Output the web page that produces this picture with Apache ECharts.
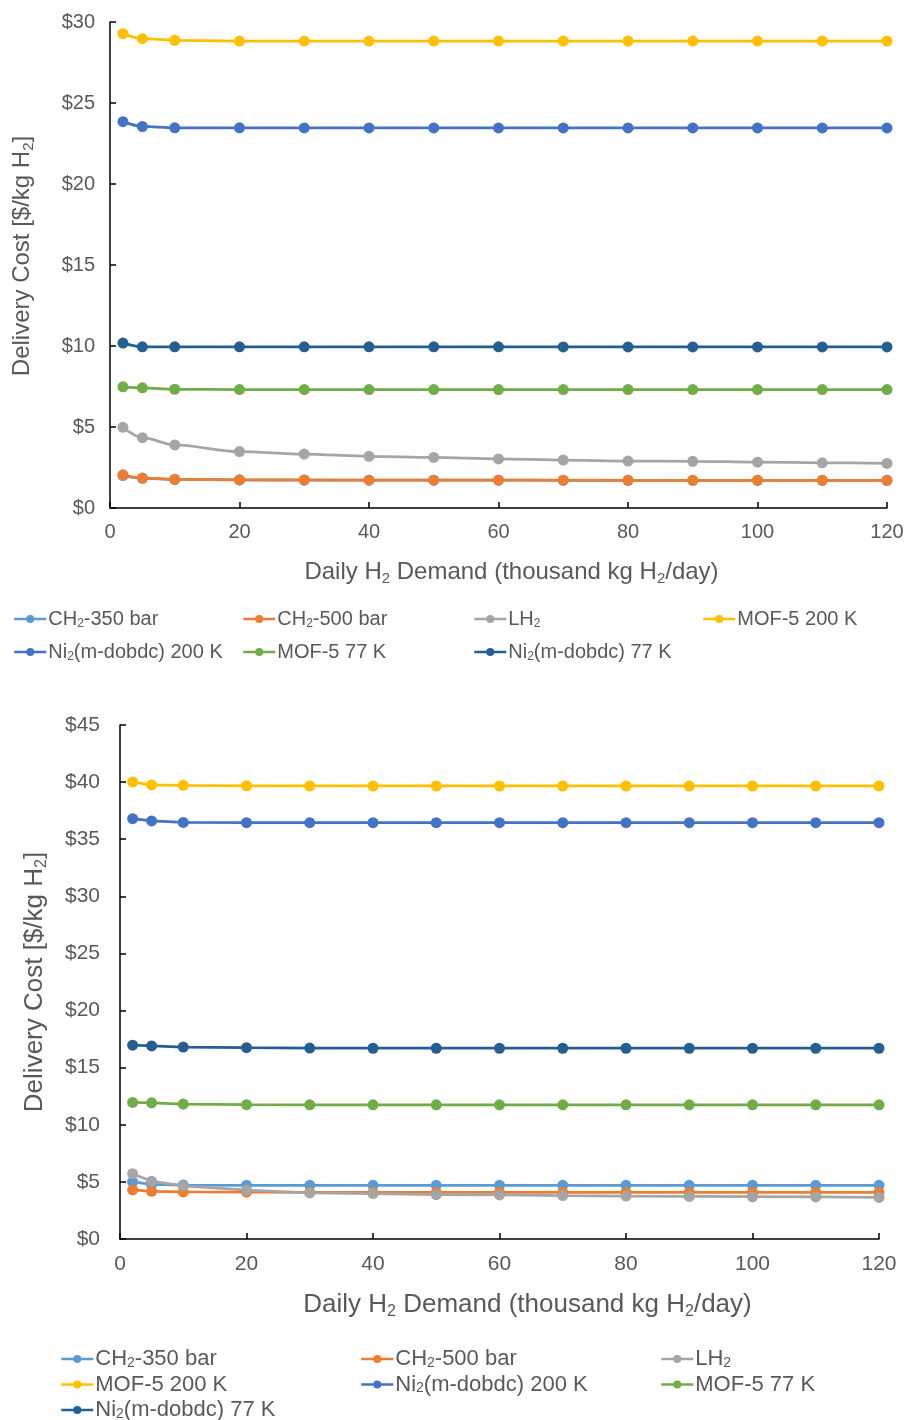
<!DOCTYPE html>
<html><head><meta charset="utf-8">
<script src="https://cdn.jsdelivr.net/npm/echarts@6/dist/echarts.min.js"></script>
<style>html,body{margin:0;padding:0;background:#fff}#c{width:907px;height:1420px}</style>
</head><body><div id="c"></div>
<script>
const xValues = [2,5,10,20,30,40,50,60,70,80,90,100,110,120];
const seriesNames = ['CH2-350 bar','CH2-500 bar','LH2','MOF-5 200 K','Ni2(m-dobdc) 200 K','MOF-5 77 K','Ni2(m-dobdc) 77 K'];
const seriesColors = ['#5B9BD5','#ED7D31','#A5A5A5','#FFC000','#4472C4','#70AD47','#255E91'];
// Top panel
const topCH350 = [2.00,1.83,1.76,1.73,1.72,1.72,1.72,1.72,1.71,1.71,1.71,1.71,1.71,1.71];
const topCH500 = [2.05,1.85,1.77,1.74,1.73,1.72,1.72,1.72,1.72,1.71,1.71,1.71,1.71,1.71];
const topLH2   = [4.98,4.34,3.89,3.48,3.33,3.19,3.12,3.03,2.96,2.90,2.88,2.83,2.79,2.75];
const topMOF200= [29.28,28.97,28.87,28.82,28.82,28.82,28.82,28.82,28.82,28.82,28.82,28.82,28.82,28.82];
const topNi200 = [23.85,23.55,23.47,23.47,23.46,23.46,23.46,23.46,23.46,23.46,23.46,23.46,23.46,23.46];
const topMOF77 = [7.48,7.42,7.33,7.31,7.31,7.31,7.31,7.31,7.31,7.31,7.31,7.31,7.31,7.31];
const topNi77  = [10.18,9.95,9.95,9.95,9.95,9.95,9.95,9.95,9.94,9.94,9.94,9.94,9.94,9.94];
// Bottom panel
const botCH350 = [5.00,4.78,4.72,4.70,4.70,4.70,4.70,4.70,4.70,4.70,4.70,4.70,4.70,4.70];
const botCH500 = [4.30,4.17,4.12,4.10,4.09,4.09,4.08,4.08,4.08,4.08,4.08,4.08,4.08,4.08];
const botLH2   = [5.72,5.06,4.65,4.27,4.03,3.98,3.88,3.86,3.80,3.76,3.73,3.70,3.68,3.64];
const botMOF200= [40.00,39.75,39.72,39.68,39.66,39.66,39.66,39.66,39.66,39.66,39.66,39.66,39.66,39.66];
const botNi200 = [36.80,36.60,36.47,36.45,36.45,36.45,36.45,36.45,36.45,36.45,36.45,36.45,36.45,36.45];
const botMOF77 = [11.96,11.92,11.81,11.76,11.75,11.75,11.75,11.75,11.75,11.75,11.75,11.75,11.75,11.75];
const botNi77  = [16.97,16.90,16.80,16.75,16.72,16.70,16.70,16.70,16.70,16.70,16.70,16.70,16.70,16.70];
const topYTicks = {min:0,max:30,interval:5};
const botYTicks = {min:0,max:45,interval:5};
const xTicks = {min:0,max:120,interval:20};

const topData = [topCH350,topCH500,topLH2,topMOF200,topNi200,topMOF77,topNi77];
const botData = [botCH350,botCH500,botLH2,botMOF200,botNi200,botMOF77,botNi77];

const FONT = '"Liberation Sans", Arial, sans-serif';
const GREY = '#595959';
function richName(name){
  return '{n|' + name.replace(/(CH|LH|Ni)2/g, '$1}{s|2}{n|') + '}';
}
function richStyles(fs, sub, lh){
  return {
    n:{fontSize:fs, color:GREY, fontFamily:FONT, lineHeight:lh||fs+4},
    s:{fontSize:sub, color:GREY, fontFamily:FONT, lineHeight:sub, verticalAlign:'bottom'}
  };
}
function makeSeries(arrs, idx, smooth){
  return arrs.map((arr,k)=>({
    name: seriesNames[k], type:'line', xAxisIndex:idx, yAxisIndex:idx,
    data: xValues.map((x,i)=>[x, arr[i]]),
    symbol:'circle', symbolSize:11, smooth: smooth, smoothMonotone:'x',
    color: seriesColors[k],
    lineStyle:{width:2.75, color:seriesColors[k]},
    itemStyle:{color:seriesColors[k]},
    z: 2, animation:false
  }));
}
function legend(items, left, top, fs, gap, lh){
  return {
    data: items, left: left, top: top, orient:'vertical', height: 120,
    itemWidth: 32, itemHeight: 10, itemGap: gap,
    lineStyle:{width:2.5},
    formatter: n => richName(n),
    textStyle:{fontFamily:FONT, fontSize:fs, color:GREY, padding:[0,0,0,-3], rich: richStyles(fs, Math.round(fs*0.62), lh)},
    selectedMode:false
  };
}
const axisLine = {show:true, lineStyle:{color:'#000', width:1.5}};
const tick = {show:true, inside:true, length:6, lineStyle:{color:'#000',width:1.5}};
const option = {
  backgroundColor:'#fff',
  animation:false,
  grid:[
    {left:110, right:20, top:22, height:486},
    {left:120, right:28, top:725, height:514}
  ],
  xAxis:[
    {type:'value', gridIndex:0, ...xTicks, axisLine, axisTick:tick,
     splitLine:{show:false}, axisLabel:{fontFamily:FONT, fontSize:20, color:GREY, margin:14},
     name:'{n|Daily H}{s|2}{n| Demand (thousand kg H}{s|2}{n|/day)}', nameLocation:'middle', nameGap:50,
     nameTextStyle:{padding:[0,0,0,26], rich: richStyles(24,15,28)}},
    {type:'value', gridIndex:1, ...xTicks, axisLine, axisTick:tick,
     splitLine:{show:false}, axisLabel:{fontFamily:FONT, fontSize:21, color:GREY, margin:15},
     name:'{n|Daily H}{s|2}{n| Demand (thousand kg H}{s|2}{n|/day)}', nameLocation:'middle', nameGap:51,
     nameTextStyle:{padding:[0,0,0,56], rich: richStyles(26,16,30)}}
  ],
  yAxis:[
    {type:'value', gridIndex:0, ...topYTicks, axisLine, axisTick:tick,
     splitLine:{show:false}, axisLabel:{fontFamily:FONT, fontSize:20, color:GREY, margin:15, formatter: v=>'$'+v},
     name:'{n|Delivery Cost [$/kg H}{s|2}{n|]}', nameLocation:'middle', nameGap:74,
     nameTextStyle:{padding:[0,0,0,18], rich: richStyles(24,15,28)}},
    {type:'value', gridIndex:1, ...botYTicks, axisLine, axisTick:tick,
     splitLine:{show:false}, axisLabel:{fontFamily:FONT, fontSize:21, color:GREY, margin:20, formatter: v=>'$'+v},
     name:'{n|Delivery Cost [$/kg H}{s|2}{n|]}', nameLocation:'middle', nameGap:70,
     nameTextStyle:{rich: richStyles(26,16,30)}}
  ],
  legend:[
    legend(['CH2-350 bar','Ni2(m-dobdc) 200 K'], 8, 604, 20, 12, 22),
    legend(['CH2-500 bar','MOF-5 77 K'], 237, 604, 20, 12, 22),
    legend(['LH2','Ni2(m-dobdc) 77 K'], 468, 604, 20, 12, 22),
    legend(['MOF-5 200 K'], 697, 604, 20, 12, 22),
    legend(['CH2-350 bar','MOF-5 200 K','Ni2(m-dobdc) 77 K'], 55, 1343, 22, 3.5, 22),
    legend(['CH2-500 bar','Ni2(m-dobdc) 200 K'], 355, 1343, 22, 3.5, 22),
    legend(['LH2','MOF-5 77 K'], 655, 1343, 22, 3.5, 22)
  ],
  series: makeSeries(topData, 0, 0.3).concat(makeSeries(botData, 1, false))
};
const chart = echarts.init(document.getElementById('c'), null, {renderer:'canvas'});
chart.setOption(option);
</script></body></html>
